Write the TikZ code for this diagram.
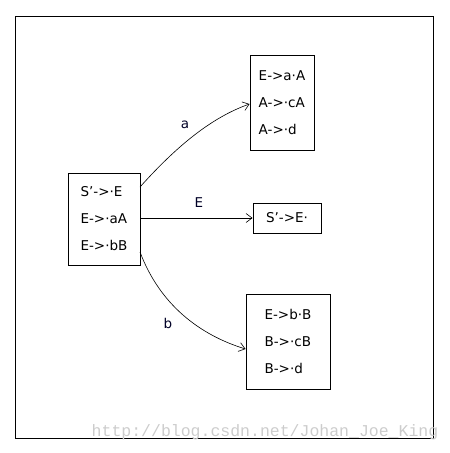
\documentclass[tikz,border=0pt]{standalone}
\usepackage{fontspec}
\setmainfont{DejaVu Sans}[Ligatures=NoCommon]
\newfontfamily\wmfont{Liberation Mono}
\usetikzlibrary{arrows.meta}
\newcommand{\apo}{\char"0027\relax}
\begin{document}
\begin{tikzpicture}[x=1pt,y=-1pt,
  itembox/.style={draw, line width=0.9pt, inner sep=0pt, align=left, font=\fontsize{13.5}{27}\selectfont},
  edgelbl/.style={font=\fontsize{13.5}{15}\selectfont, text=black!85!blue},
  trans/.style={line width=0.6pt, -{Straight Barb[length=6pt,width=9pt]}}]
\useasboundingbox (0,0) rectangle (450,453);
\draw[line width=0.9pt] (15,16) rectangle (433,438);
\node[itembox, minimum width=72pt, minimum height=92pt] (I0) at (104,219) {S\apo->·E\\E->·aA\\E->·bB};
\node[itembox, minimum width=64pt, minimum height=95pt] (I1) at (282,102.5) {E->a·A\\A->·cA\\A->·d};
\node[itembox, minimum width=68pt, minimum height=30pt] (I2) at (287,218) {S\apo->E·};
\node[itembox, minimum width=84pt, minimum height=95pt] (I3) at (288,341.5) {E->b·B\\B->·cB\\B->·d};
\coordinate (a0) at (140,187);
\coordinate (b0) at (140,252);
\draw[trans] (a0) .. controls (175,148) and (210,118) .. (I1.west |- 0,104);
\draw[trans] (I0.east |- I2) -- (I2.west);
\draw[trans] (b0) .. controls (160,305) and (200,335) .. (I3.west |- 0,349);
\node[edgelbl] (la) at (185,125) {a};
\node[edgelbl] (lE) at (199,203) {E};
\node[edgelbl] (lb) at (168,323) {b};
\node[font=\wmfont\fontsize{16.5}{18}\selectfont, text=black!20, anchor=center] (wm) at (265,432) {http://blog.csdn.net/Johan\_Joe\_King};
\end{tikzpicture}
\end{document}
